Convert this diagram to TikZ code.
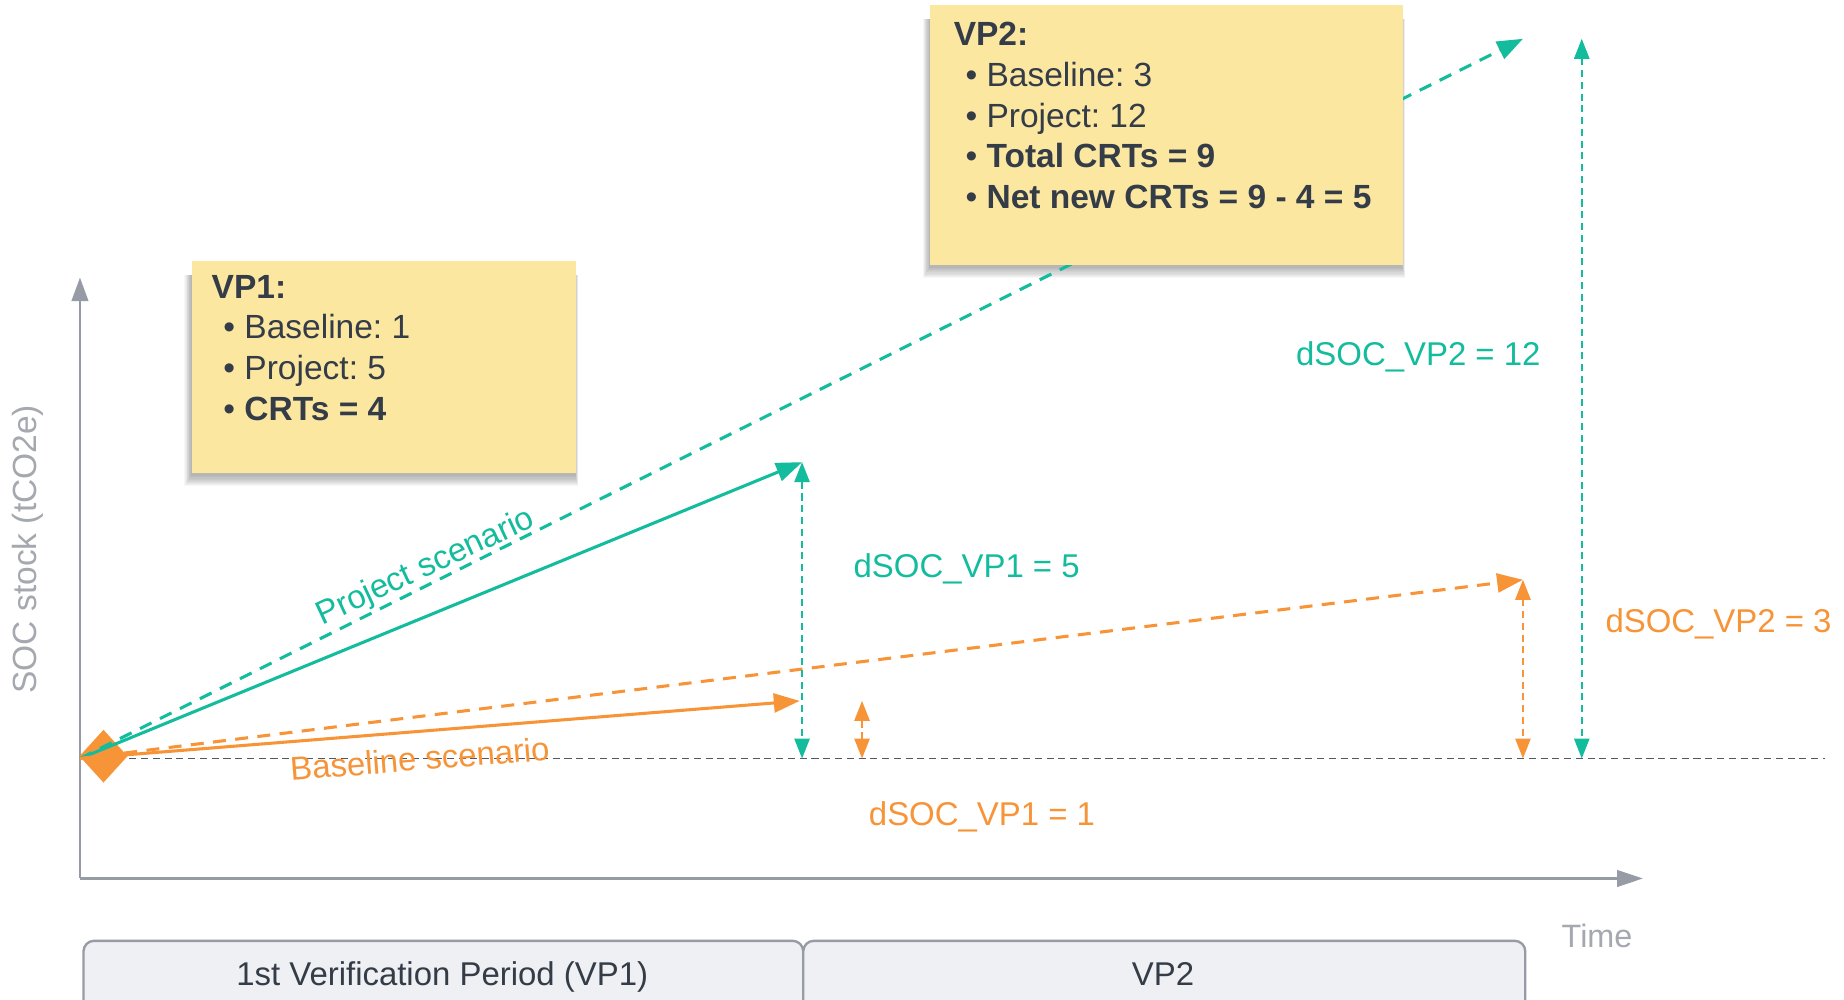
\documentclass[tikz,border=0pt]{standalone}
\usepackage{fontspec}
\setmainfont{Liberation Sans}
\frenchspacing
\usetikzlibrary{arrows.meta,shapes.geometric}
\pgfdeclarelayer{bg}
\pgfdeclarelayer{shade}
\pgfsetlayers{bg,shade,main}
\definecolor{tealc}{RGB}{20,188,158}
\definecolor{orangec}{RGB}{247,148,56}
\definecolor{notec}{RGB}{252,231,161}
\definecolor{txtc}{RGB}{52,60,72}
\definecolor{axisc}{RGB}{150,155,166}
\definecolor{lblc}{RGB}{165,168,175}
\definecolor{periodc}{RGB}{239,240,243}
\tikzset{
  fnt/.style={font=\fontsize{28}{34.5}\selectfont},
  note/.style={rectangle, fill=notec, draw=none, inner sep=0pt},
  notetext/.style={font=\fontsize{28.5}{34.6}\selectfont, text=txtc, align=left, inner sep=0pt, anchor=north west},
  bigtip/.style={-{Triangle[length=22pt,width=16pt]}},
  smalltip/.style={{Triangle[length=17pt,width=13pt]}-{Triangle[length=17pt,width=13pt]}},
  solidline/.style={line width=2.6pt},
  dashline/.style={line width=2.6pt, dash pattern=on 11pt off 8pt},
  dotline/.style={line width=1.5pt, dash pattern=on 6pt off 4pt},
  period/.style={rectangle, rounded corners=9pt, fill=periodc, draw=axisc, line width=2pt, inner sep=0pt},
  lbl/.style={fnt, inner sep=0pt},
  softshade/.style={black, opacity=0.03},
}
\begin{document}
\begin{tikzpicture}[x=1pt,y=-1pt]
\useasboundingbox (0,0) rectangle (1568,850);
\clip (0,0) rectangle (1568,850);
\begin{pgfonlayer}{bg}
\fill[white] (0,0) rectangle (1568,850);
\end{pgfonlayer}

% coordinates
\coordinate (O) at (68,645);
\coordinate (ytop) at (68,236);
\coordinate (xend) at (1397,747);
\coordinate (corner) at (68,747);
\coordinate (bl0) at (70,645);
\coordinate (bl1) at (1552,645);
\coordinate (P1) at (682,393);
\coordinate (P1b) at (682,645);
\coordinate (P2) at (1295,33);
\coordinate (P2v) at (1345,33);
\coordinate (P2vb) at (1345,645);
\coordinate (B1) at (680,596);
\coordinate (B1v) at (733,596);
\coordinate (B1vb) at (733,645);
\coordinate (B2) at (1295,493);
\coordinate (B2b) at (1295,645);

% axes
\draw[axisc, line width=2.2pt, -{Triangle[length=20pt,width=14pt]}] (corner) -- (ytop);
\draw[axisc, line width=2.2pt, -{Triangle[length=22pt,width=14pt]}] (corner) -- (xend);
\node[lbl, text=lblc, rotate=90, font=\fontsize{28.5}{30}\selectfont] (ylab) at (24,467) {SOC stock (tCO2e)};
\node[lbl, text=lblc, font=\fontsize{27.5}{30}\selectfont] (tlab) at (1358,796) {Time};

% baseline reference
\draw[txtc!85, line width=1.3pt, dash pattern=on 6pt off 4pt] (bl0) -- (bl1);

% start diamond
\node[diamond, fill=orangec, minimum width=41pt, minimum height=45pt, inner sep=0pt] (start) at (88,643) {};

% scenario lines
\draw[tealc, dashline, bigtip] (O) -- (P2);
\draw[tealc, solidline, bigtip] (O) -- (P1);
\draw[orangec, dashline, bigtip] (O) -- (B2);
\draw[orangec, solidline, bigtip] (O) -- (B1);

% vertical deltas
\draw[tealc, dotline, smalltip] (P1) -- (P1b);
\draw[orangec, dotline, smalltip] (B1v) -- (B1vb);
\draw[orangec, dotline, smalltip] (B2) -- (B2b);
\draw[tealc, dotline, smalltip] (P2v) -- (P2vb);

% labels
\node[lbl, text=tealc, rotate=25] (projlab) at (362,483) {Project scenario};
\node[lbl, text=orangec, rotate=4.5] (baselab) at (357,645) {Baseline scenario};
\node[lbl, text=tealc, anchor=base] (d1p) at (822,491) {dSOC\_VP1 = 5};
\node[lbl, text=orangec, anchor=base] (d1b) at (835,702) {dSOC\_VP1 = 1};
\node[lbl, text=tealc, anchor=base] (d2p) at (1206,311) {dSOC\_VP2 = 12};
\node[lbl, text=orangec, anchor=base west] (d2b) at (1365,538) {dSOC\_VP2 = 3};

% notes
\node[note, minimum width=327pt, minimum height=180pt] (vp1box) at (326.5,312) {};
\begin{pgfonlayer}{shade}
\foreach \i in {1,...,10}
  \fill[softshade] ([xshift=-\i*0.6pt,yshift=-2pt-\i*0.9pt]vp1box.south west) rectangle ([xshift=-1pt+\i*0.25pt,yshift=-12pt]vp1box.north east);
\end{pgfonlayer}
\node[notetext] (vp1txt) at ([xshift=17pt,yshift=-12pt]vp1box.north west)
 {\textbf{VP1:}\\
  \hspace*{10pt}\textbullet\ Baseline: 1\\
  \hspace*{10pt}\textbullet\ Project: 5\\
  \hspace*{10pt}\textbullet\ \textbf{CRTs = 4}};

\node[note, minimum width=402pt, minimum height=221pt] (vp2box) at (992,114.5) {};
\begin{pgfonlayer}{shade}
\foreach \i in {1,...,10}
  \fill[softshade] ([xshift=-\i*0.6pt,yshift=-2pt-\i*0.9pt]vp2box.south west) rectangle ([xshift=-1pt+\i*0.25pt,yshift=-12pt]vp2box.north east);
\end{pgfonlayer}
\node[notetext] (vp2txt) at ([xshift=20pt,yshift=-15pt]vp2box.north west)
 {\textbf{VP2:}\\
  \hspace*{10pt}\textbullet\ Baseline: 3\\
  \hspace*{10pt}\textbullet\ Project: 12\\
  \hspace*{10pt}\textbullet\ \textbf{Total CRTs = 9}\\
  \hspace*{10pt}\textbullet\ \textbf{Net new CRTs = 9 - 4 = 5}};

% periods
\node[period, minimum width=612pt, minimum height=90pt, anchor=north west] (per1) at (70,799) {};
\node[period, minimum width=614pt, minimum height=90pt, anchor=north west] (per2) at (682,799) {};
\node[lbl, text=txtc, anchor=base] (per1t) at (376,838) {1st Verification Period (VP1)};
\node[lbl, text=txtc, anchor=base] (per2t) at (989,838) {VP2};
\end{tikzpicture}
\end{document}
